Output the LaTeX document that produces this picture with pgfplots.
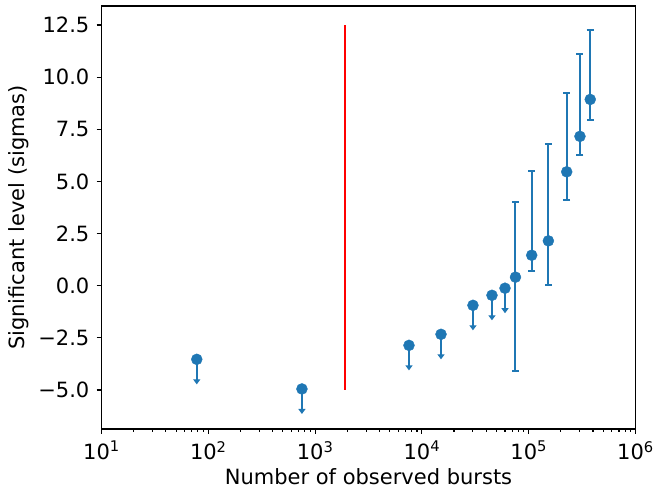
\documentclass[border=0pt]{standalone}
\usepackage{fontspec}
\setmainfont{DejaVu Sans}
\usepackage{pgfplots}
\pgfplotsset{compat=1.18}
\usetikzlibrary{arrows.meta}
\definecolor{c0}{RGB}{31,119,180}
\begin{document}
\fontsize{21}{25}\selectfont
\begin{tikzpicture}
\path[use as bounding box] (-101.5pt,-60pt) rectangle (555.5pt,429pt);
\begin{axis}[
  scale only axis, width=534pt, height=423pt,
  at={(0,0)}, anchor=south west,
  xmode=log, xmin=10, xmax=1e6, ymin=-6.87, ymax=13.41,
  axis line style={line width=1.1pt},
  tick style={black, line width=1.1pt},
  major tick length=5pt, minor tick length=3pt,
  tick align=outside, xtick pos=bottom, ytick pos=left,
  xtick={10,100,1000,10000,100000,1000000},
  xticklabels={10\textsuperscript{1},10\textsuperscript{2},10\textsuperscript{3},10\textsuperscript{4},10\textsuperscript{5},10\textsuperscript{6}},
  minor xtick={20,30,40,50,60,70,80,90,200,300,400,500,600,700,800,900,2000,3000,4000,5000,6000,7000,8000,9000,20000,30000,40000,50000,60000,70000,80000,90000,200000,300000,400000,500000,600000,700000,800000,900000},
  ytick={-5,-2.5,0,2.5,5,7.5,10,12.5},
  yticklabels={−5.0,−2.5,0.0,2.5,5.0,7.5,10.0,12.5},
  xlabel={Number of observed bursts},
  ylabel={Significant level (sigmas)},
  xlabel style={at={(axis description cs:0.5,0)}, anchor=center, yshift=-48pt},
  ylabel style={at={(axis description cs:0,0.5)}, anchor=center, yshift=83pt},
  clip=false,
]
\addplot[red, line width=2pt] coordinates {(1900,-5) (1900,12.5)};
\addplot[only marks, c0, mark=*, mark size=5.5pt, mark options={fill=c0, draw=c0},
  error bars/.cd, y dir=minus, y fixed=1.2, error mark=none,
  error bar style={line width=2pt, c0, -{Triangle[width=7pt,length=5pt]}}]
  coordinates {(78,-3.53) (753,-4.95) (7570,-2.86) (15100,-2.33) (30070,-0.94) (45300,-0.46) (60000,-0.12)};
\addplot[only marks, c0, mark=*, mark size=5.5pt, mark options={fill=c0, draw=c0},
  error bars/.cd, y dir=both, y explicit,
  error bar style={line width=2pt, c0},
  error mark options={rotate=90, mark size=3.5pt, line width=2pt, c0}]
  coordinates {
  (75200,0.41) += (0,3.61) -= (0,4.50)
  (106700,1.46) += (0,4.05) -= (0,0.75)
  (152800,2.15) += (0,4.62) -= (0,2.11)
  (227000,5.46) += (0,3.79) -= (0,1.34)
  (302000,7.16) += (0,3.95) -= (0,0.87)
  (377000,8.93) += (0,3.33) -= (0,0.97)
  };
\end{axis}
\end{tikzpicture}
\end{document}
